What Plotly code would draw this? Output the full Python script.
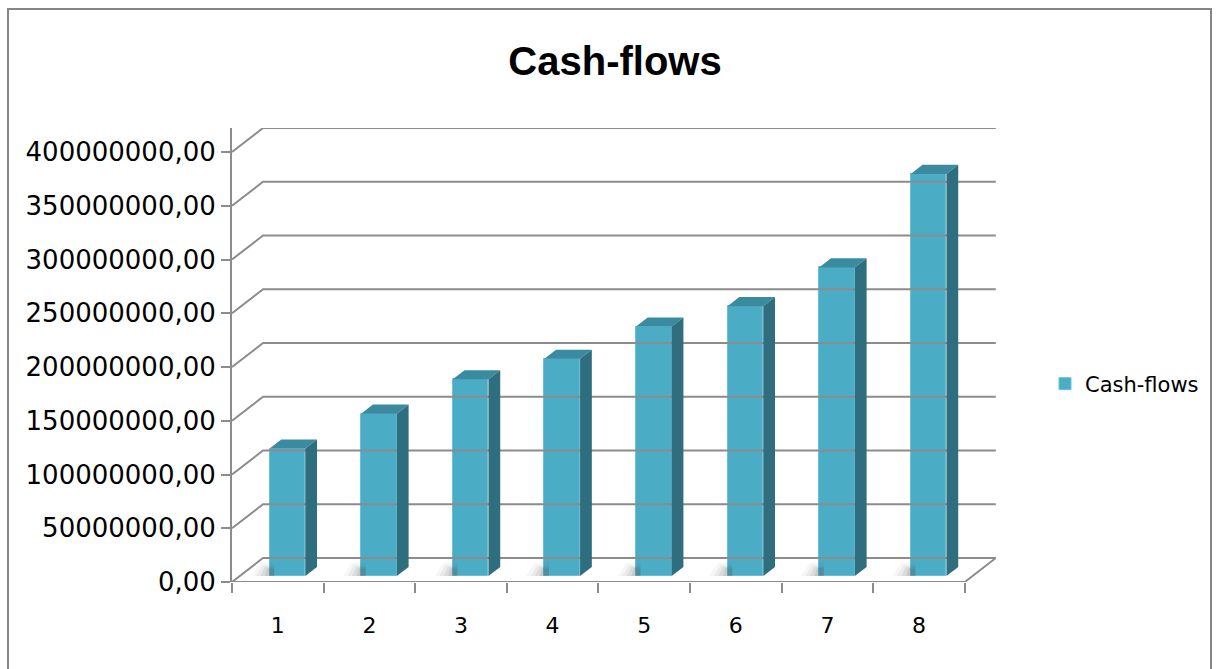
import plotly.graph_objects as go

# ---- data ----
categories = ["1", "2", "3", "4", "5", "6", "7", "8"]
cash_flows = [118.5e6, 151e6, 183e6, 202e6, 232e6, 251e6, 287e6, 374e6]
y_ticks = [0, 50e6, 100e6, 150e6, 200e6, 250e6, 300e6, 350e6, 400e6]
y_tick_labels = [f"{int(v)},00" for v in y_ticks]
series_name = "Cash-flows"
title_text = "Cash-flows"

# ---- layout geometry (pixels) ----
W, H = 1219, 669
L, R = 232, 1000          # plot area left/right px
T, B = 128, 582           # plot area top / floor-front px
X0 = 0.5
X_RANGE = [X0, X0 + (R - L) / 91.6]
DX = 31 / 91.6            # depth vector in x units
Y_TOP = 400e6 * (B - T) / (B - 152)   # value at top of plot area
PX_PER_VAL = (B - T) / Y_TOP
DY = 24 / PX_PER_VAL      # depth vector in value units
FRONT = 0.25              # bar front plane depth fraction
BDEPTH = 0.38             # bar depth fraction
BW = 0.39                 # bar width (x units)
XSHIFT = FRONT * DX + 0.02

FRONT_C = "#4BACC6"
TOP_C = "#3A8BA0"
SIDE_C = "#2F6E7E"
GRID_C = "#8C8C8C"

n = len(categories)
xpos = list(range(1, n + 1))

fig = go.Figure()

# back wall gridlines + left wall diagonals
gx, gy = [], []
x_end = X0 + n + DX
for v in y_ticks:
    gx += [X0, X0 + DX, x_end, None]
    gy += [v, v + DY, v + DY, None]
fig.add_trace(go.Scatter(x=gx, y=gy, mode="lines", line=dict(color=GRID_C, width=2),
                         hoverinfo="skip", showlegend=False))

# floor outline (front edge and right edge)
fig.add_trace(go.Scatter(x=[X0, X0 + n, X0 + n + DX], y=[0, 0, DY], mode="lines",
                         line=dict(color=GRID_C, width=2), hoverinfo="skip", showlegend=False))

# soft shadows on floor, to the left of each bar (layered translucent polygons)
for i, v in enumerate(cash_flows):
    xl = xpos[i] + XSHIFT - BW / 2
    for ext, top, a in [(0.20, 0.55, 0.05), (0.15, 0.45, 0.07), (0.10, 0.38, 0.09), (0.05, 0.32, 0.12)]:
        y0 = FRONT * DY
        y1 = (FRONT + top) * DY
        sx = [xl - ext, xl + 0.05, xl + 0.05, xl - ext * 0.5, xl - ext]
        sy = [y0, y0, y1, y1, y0]
        fig.add_trace(go.Scatter(x=sx, y=sy, fill="toself", fillcolor=f"rgba(80,80,80,{a})",
                                 line=dict(width=0), mode="lines", hoverinfo="skip",
                                 showlegend=False))

# front faces (bars)
fig.add_trace(go.Bar(x=[p + XSHIFT for p in xpos], y=cash_flows,
                     base=[FRONT * DY] * n, width=BW, name=series_name,
                     marker=dict(color=FRONT_C, line=dict(color="#6CC0D6", width=1))))

# top and side faces
for i, v in enumerate(cash_flows):
    xl = xpos[i] + XSHIFT - BW / 2
    xr = xl + BW
    yb = FRONT * DY
    yt = yb + v
    ddx, ddy = BDEPTH * DX, BDEPTH * DY
    fig.add_trace(go.Scatter(x=[xl, xr, xr + ddx, xl + ddx, xl], y=[yt, yt, yt + ddy, yt + ddy, yt],
                             fill="toself", fillcolor=TOP_C, line=dict(width=0), mode="lines",
                             hoverinfo="skip", showlegend=False))
    fig.add_trace(go.Scatter(x=[xr, xr + ddx, xr + ddx, xr, xr], y=[yb, yb + ddy, yt + ddy, yt, yb],
                             fill="toself", fillcolor=SIDE_C, line=dict(width=0), mode="lines",
                             hoverinfo="skip", showlegend=False))

fig.update_layout(
    width=W, height=H,
    margin=dict(l=L, r=W - R, t=T, b=H - B, pad=0, autoexpand=False),
    paper_bgcolor="white", plot_bgcolor="white",
    title=dict(text=f"<b>{title_text}</b>", x=615 / W, xref="container", xanchor="center",
               y=1 - 61 / H, yref="container", yanchor="middle",
               font=dict(family="Liberation Sans", size=40, color="black")),
    showlegend=True,
    legend=dict(x=(1045 - L) / (R - L), xanchor="left", y=(B - 384) / (B - T), yanchor="middle",
                font=dict(family="DejaVu Sans", size=21, color="black"),
                itemwidth=30, bgcolor="rgba(0,0,0,0)"),
    bargap=0,
    xaxis=dict(range=X_RANGE, tickvals=xpos, ticktext=categories, ticks="", showgrid=False,
               zeroline=False, showline=False, ticklabelstandoff=28,
               tickfont=dict(family="DejaVu Sans", size=22, color="black"),
               minor=dict(tickvals=[X0 + k for k in range(n + 1)], ticks="outside", ticklen=10,
                          tickwidth=2, tickcolor=GRID_C, showgrid=False)),
    yaxis=dict(range=[0, Y_TOP], tickvals=y_ticks, ticktext=y_tick_labels, ticks="outside",
               ticklen=9, tickwidth=2, tickcolor=GRID_C, showline=True, linecolor=GRID_C,
               linewidth=2, showgrid=False, zeroline=False,
               tickfont=dict(family="DejaVu Sans", size=26, color="black")),
)

# outer chart border
fig.add_shape(type="rect", xref="paper", yref="paper",
              x0=(8 - L) / (R - L), x1=(1211 - L) / (R - L),
              y0=(B - 680) / (B - T), y1=(B - 9) / (B - T),
              line=dict(color="#868686", width=2), fillcolor="rgba(0,0,0,0)", layer="below")

fig.write_html("out.html")
